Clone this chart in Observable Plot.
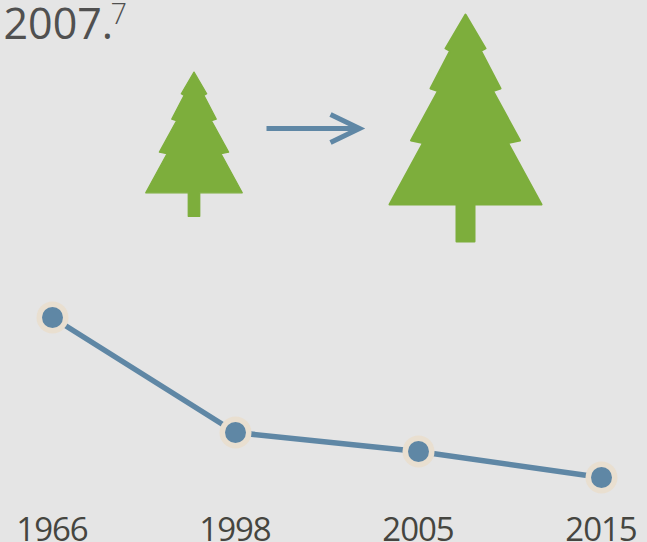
<!DOCTYPE html>
<html><head><meta charset="utf-8">
<style>html,body{margin:0;padding:0;background:#e5e5e5;overflow:hidden}svg{display:block}</style>
<script src="https://cdn.jsdelivr.net/npm/d3@7"></script>
<script src="https://cdn.jsdelivr.net/npm/@observablehq/plot@0.6"></script>
</head><body><div id="chart"></div>
<script>
const years = ["1966", "1998", "2005", "2015"];
const values = [225, 110, 91, 65];
const titleText = "2007.";
const footnote = "7";
const rows = years.map((year, i) => ({year, value: values[i]}));

const treeOutline = [[0,1],[20,35],[15.5,37.5],[35,75],[27.5,77.5],[54.5,127],[42.5,129.5],[76,191],[9,191],[9,228]];
const tree = {
  draw(ctx, size) {
    const k = Math.sqrt(size / Math.PI) / 100;
    ctx.moveTo(0, k);
    for (const [a, b] of treeOutline) ctx.lineTo(a * k, b * k);
    for (const [a, b] of [...treeOutline].reverse()) ctx.lineTo(-a * k, b * k);
    ctx.closePath();
  }
};
const arrow = {
  draw(ctx) {
    ctx.moveTo(-49, 0); ctx.lineTo(42, 0);
    ctx.moveTo(15, -14); ctx.lineTo(44, 0); ctx.lineTo(15, 14);
  }
};
const fontFamily = "'Open Sans', sans-serif";
const green = "#7dae3c", blue = "#5f87a5", halo = "#e9dfd0";
const chart = Plot.plot({
  width: 647, height: 542,
  margin: 0, marginBottom: 30,
  style: {background: "#e5e5e5", fontFamily},
  x: {type: "point", domain: years, range: [51.5, 601.5], padding: 0, axis: null},
  y: {domain: [0, 542], range: [542, 0], axis: null},
  marks: [
    Plot.axisX({label: null, tickSize: 0, tickPadding: 5.5, fontSize: 33, color: "#454540", lineAnchor: "top", dx: -0.5}),
    Plot.text([titleText], {frameAnchor: "top-left", dx: 3, dy: 38, text: d => d, fontSize: 43, fontWeight: 400, fill: "#505050", textAnchor: "start", lineAnchor: "bottom", style: {letterSpacing: "-1.6px"}}),
    Plot.text([footnote], {frameAnchor: "top-left", dx: 110, dy: 23, text: d => d, fontSize: 29, fontWeight: 300, fill: "#505050", textAnchor: "start", lineAnchor: "bottom"}),
    Plot.dot([0], {frameAnchor: "top-left", dx: 193.5, dy: 71, symbol: tree, r: 63.5, fill: green, stroke: green, strokeWidth: 1.3, strokeLinejoin: "round"}),
    Plot.dot([0], {frameAnchor: "top-left", dx: 465, dy: 13, symbol: tree, r: 100, fill: green, stroke: green, strokeWidth: 2, strokeLinejoin: "round"}),
    Plot.dot([0], {frameAnchor: "top-left", dx: 315, dy: 128, symbol: arrow, r: 10, fill: "none", stroke: blue, strokeWidth: 5, strokeLinejoin: "miter"}),
    Plot.line(rows, {x: "year", y: "value", stroke: blue, strokeWidth: 5.5}),
    Plot.dot(rows, {x: "year", y: "value", r: 16, fill: halo}),
    Plot.dot(rows, {x: "year", y: "value", r: 10.5, fill: blue})
  ]
});
chart.querySelectorAll("[aria-label='x-axis tick label']").forEach(g => g.style.letterSpacing = "-1px");
document.getElementById("chart").append(chart);
</script></body></html>
